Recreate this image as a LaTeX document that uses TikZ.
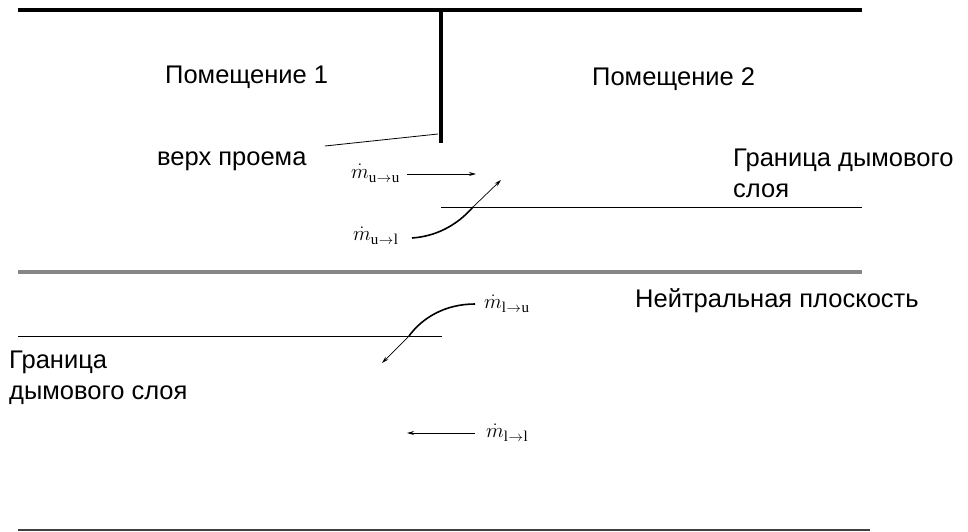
\documentclass[tikz,border=0pt]{standalone}
\usepackage{fontspec}
\setmainfont{Liberation Sans}
\newfontfamily\tnr{Liberation Serif}
\usetikzlibrary{arrows.meta}
\newcommand\mflow[2]{$\dot m$\raisebox{-4.5pt}{\fontsize{15}{15}\selectfont\tnr #1\kern0.5pt$\to$\kern0.5pt#2}}
\begin{document}
\begin{tikzpicture}[x=1pt,y=-1pt,
  lbl/.style={anchor=base west,inner sep=0pt,font=\fontsize{25.5}{30.5}\selectfont,align=left},
  mlbl/.style={anchor=base west,inner sep=0pt,font=\fontsize{20}{22}\selectfont},
  flow/.style={line width=1pt,-{Stealth[length=7pt,width=4pt]}},
  thinflow/.style={line width=0.7pt,-{Stealth[length=7pt,width=4pt]}},
  curve/.style={line width=1.6pt},
  layer/.style={line width=1pt}]
\useasboundingbox (0,0) rectangle (968,532);
% walls
\coordinate (TL) at (18,10); \coordinate (TR) at (862,10);
\coordinate (WT) at (441,10); \coordinate (WB) at (441,143);
\draw[line width=4.5pt] (TL) -- (TR);
\draw[line width=4pt] (WT) -- (WB);
\coordinate (NL) at (18,272); \coordinate (NR) at (862,272);
\draw[line width=4pt,color=black!47] (NL) -- (NR);
\coordinate (BL) at (18,530); \coordinate (BR) at (870,530);
\draw[line width=2pt,color=black!75] (BL) -- (BR);
% smoke layer lines
\coordinate (UL) at (441,207); \coordinate (UR) at (862,207);
\draw[layer] (UL) -- (UR);
\coordinate (LL) at (18,336); \coordinate (LR) at (442,336);
\draw[layer] (LL) -- (LR);
% labels
\node[lbl] (r1) at (165,84) {Помещение 1};
\node[lbl] (r2) at (592,86) {Помещение 2};
\node[lbl] (top) at (157,165) {верх проема};
\coordinate (topA) at (325,146); \coordinate (topB) at (438,134);
\draw[line width=0.8pt] (topA) -- (topB);
\node[lbl] (ub) at (733,197) {Граница дымового\\слоя};
\node[lbl] (np) at (635,307) {Нейтральная плоскость};
\node[lbl] (lb) at (9,399) {Граница\\дымового слоя};
% flows
\node[mlbl] (muu) at (351,178) {\mflow{u}{u}};
\coordinate (muuA) at (407,174); \coordinate (muuB) at (476,174);
\draw[flow] (muuA) -- (muuB);
\node[mlbl] (mul) at (353,240) {\mflow{u}{l}};
\coordinate (mulA) at (412,238); \coordinate (mulX) at (473,207); \coordinate (mulB) at (501,180);
\draw[curve] (mulA) .. controls (440,236) and (460,222) .. (mulX);
\draw[thinflow] (mulX) -- (mulB);
\node[mlbl] (mlu) at (484,308) {\mflow{l}{u}};
\coordinate (mluA) at (475,304); \coordinate (mluX) at (409,336); \coordinate (mluB) at (382,363);
\draw[curve] (mluA) .. controls (445,304) and (422,318) .. (mluX);
\draw[thinflow] (mluX) -- (mluB);
\node[mlbl] (mll) at (486,437) {\mflow{l}{l}};
\coordinate (mllA) at (475,433); \coordinate (mllB) at (407,433);
\draw[flow] (mllA) -- (mllB);
\end{tikzpicture}
\end{document}
